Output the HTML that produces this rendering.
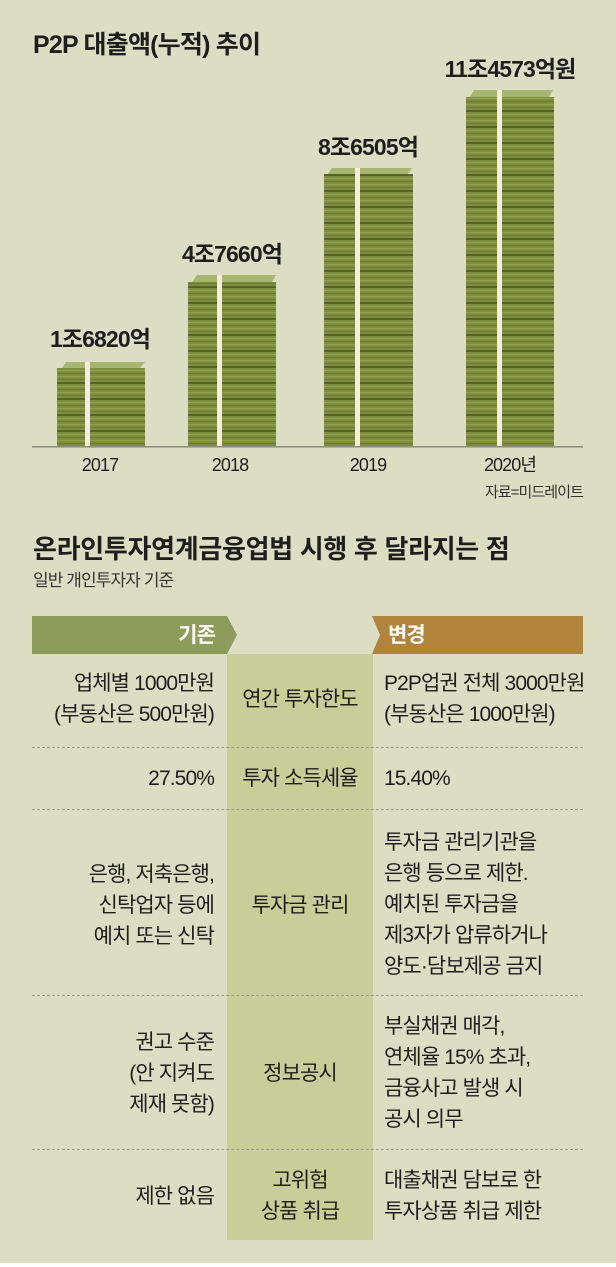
<!DOCTYPE html>
<html><head><meta charset="utf-8">
<style>
*{margin:0;padding:0}
body{width:616px;height:1267px;background:#fff;position:relative;overflow:hidden;font-family:"Liberation Sans","Noto Sans CJK KR",sans-serif;color:#1e1e1e}
#bg{position:absolute;left:0;top:0;width:616px;height:1263px;background:#dcdec4}
.t{position:absolute;white-space:nowrap;line-height:31px;font-size:21px;letter-spacing:-0.9px}
.r{text-align:right}
.c{text-align:center}
.dash{position:absolute;left:32px;width:551px;border-top:1.5px dashed #9a9a88;height:0}
</style></head><body>
<div id="bg"></div>
<div class="t" style="left:33px;top:30px;font-size:25px;font-weight:bold;letter-spacing:-0.8px">P2P 대출액(누적) 추이</div>
<svg style="position:absolute;left:0;top:0" width="616" height="520">
<defs>
<pattern id="p" width="20" height="16" patternUnits="userSpaceOnUse">
<rect width="20" height="16" fill="#7f8e3e"/>
<rect y="2" width="20" height="1" fill="#93a150"/>
<rect y="5" width="20" height="1" fill="#6c7a2f"/>
<rect y="8" width="20" height="1" fill="#93a150"/>
<rect y="11" width="20" height="1" fill="#6c7a2f"/>
<rect y="14" width="20" height="2" fill="#56632a"/>
</pattern>
</defs>
<g>
<rect x="57" y="368" width="88" height="78" fill="url(#p)"/>
<polygon points="62,368 140,368 145,362 66,362" fill="#a8b670"/>
<rect x="85" y="362" width="5" height="84" fill="#f2f0d8"/>
<rect x="188" y="282" width="88" height="164" fill="url(#p)"/>
<polygon points="192,282 272,282 276,275 197,275" fill="#a8b670"/>
<rect x="217" y="275" width="5" height="171" fill="#f2f0d8"/>
<rect x="324" y="174" width="89" height="272" fill="url(#p)"/>
<polygon points="328,174 408,174 412,168 332,168" fill="#a8b670"/>
<rect x="355" y="168" width="5" height="278" fill="#f2f0d8"/>
<rect x="466" y="97" width="88" height="349" fill="url(#p)"/>
<polygon points="470,97 549,97 553,90 474,90" fill="#a8b670"/>
<rect x="497" y="90" width="5" height="356" fill="#f2f0d8"/>
</g>
<rect x="32" y="446" width="551" height="1.5" fill="#8a8a78"/>
</svg>
<div class="t c" style="left:30px;width:140px;top:324px;font-size:23px;font-weight:bold">1조6820억</div>
<div class="t c" style="left:162px;width:140px;top:239px;font-size:23px;font-weight:bold">4조7660억</div>
<div class="t c" style="left:298px;width:140px;top:132px;font-size:23px;font-weight:bold">8조6505억</div>
<div class="t c" style="left:430px;width:160px;top:54px;font-size:23px;font-weight:bold">11조4573억원</div>
<div class="t c" style="left:60px;width:80px;top:450px;font-size:18px">2017</div>
<div class="t c" style="left:190px;width:80px;top:450px;font-size:18px">2018</div>
<div class="t c" style="left:328px;width:80px;top:450px;font-size:18px">2019</div>
<div class="t c" style="left:470px;width:80px;top:450px;font-size:18px">2020년</div>
<div class="t r" style="left:400px;width:183px;top:477px;font-size:15px;color:#333">자료=미드레이트</div>

<div class="t" style="left:33px;top:534px;font-size:26px;font-weight:bold;letter-spacing:-0.3px">온라인투자연계금융업법 시행 후 달라지는 점</div>
<div class="t" style="left:33px;top:565px;font-size:17px;color:#333">일반 개인투자자 기준</div>

<div style="position:absolute;left:227px;top:654px;width:146px;height:586px;background:#c9cd98"></div>
<svg style="position:absolute;left:0;top:0" width="616" height="700">
<polygon points="32,616 227,616 237,635 227,654 32,654" fill="#8f9b5b"/>
<polygon points="372,616 583,616 583,654 372,654 380,635" fill="#b0843a"/>
</svg>
<div class="t r" style="left:100px;width:115px;top:620px;font-size:21px;font-weight:bold;color:#fff">기존</div>
<div class="t" style="left:388px;top:620px;font-size:21px;font-weight:bold;color:#fff">변경</div>

<div class="dash" style="top:747px"></div>
<div class="dash" style="top:809px"></div>
<div class="dash" style="top:995px"></div>
<div class="dash" style="top:1149px"></div>

<div class="t r" style="left:10px;width:204px;top:668px">업체별 1000만원<br>(부동산은 500만원)</div>
<div class="t c" style="left:217px;width:166px;top:684px">연간 투자한도</div>
<div class="t" style="left:384px;top:668px">P2P업권 전체 3000만원<br>(부동산은 1000만원)</div>

<div class="t r" style="left:10px;width:204px;top:763px">27.50%</div>
<div class="t c" style="left:217px;width:166px;top:763px">투자 소득세율</div>
<div class="t" style="left:384px;top:763px">15.40%</div>

<div class="t r" style="left:10px;width:204px;top:859px">은행, 저축은행,<br>신탁업자 등에<br>예치 또는 신탁</div>
<div class="t c" style="left:217px;width:166px;top:890px">투자금 관리</div>
<div class="t" style="left:384px;top:827px">투자금 관리기관을<br>은행 등으로 제한.<br>예치된 투자금을<br>제3자가 압류하거나<br>양도·담보제공 금지</div>

<div class="t r" style="left:10px;width:204px;top:1027px">권고 수준<br>(안 지켜도<br>제재 못함)</div>
<div class="t c" style="left:217px;width:166px;top:1058px">정보공시</div>
<div class="t" style="left:384px;top:1011px">부실채권 매각,<br>연체율 15% 초과,<br>금융사고 발생 시<br>공시 의무</div>

<div class="t r" style="left:10px;width:204px;top:1181px">제한 없음</div>
<div class="t c" style="left:217px;width:166px;top:1165px">고위험<br>상품 취급</div>
<div class="t" style="left:384px;top:1165px">대출채권 담보로 한<br>투자상품 취급 제한</div>
</body></html>
